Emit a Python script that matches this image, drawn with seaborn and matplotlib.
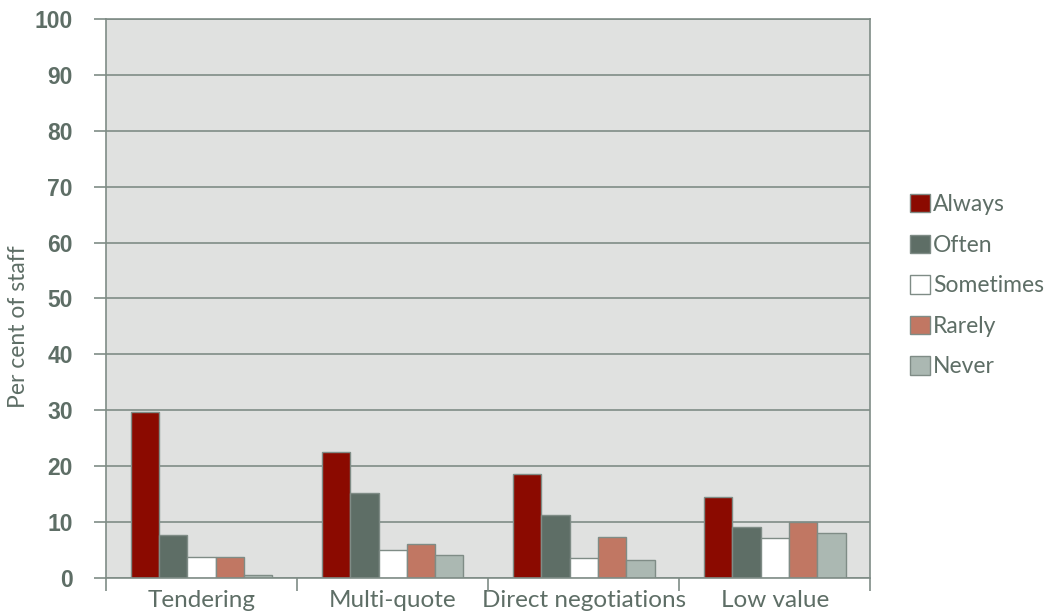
import matplotlib
matplotlib.use("Agg")
import matplotlib.pyplot as plt
import seaborn as sns
import pandas as pd
import numpy as np
from matplotlib.patches import Patch

categories = ["Tendering", "Multi-quote", "Direct negotiations", "Low value"]
series = ["Always", "Often", "Sometimes", "Rarely", "Never"]
always = [29.7, 22.6, 18.6, 14.4]
often = [7.7, 15.2, 11.3, 9.2]
sometimes = [3.8, 5.0, 3.6, 7.1]
rarely = [3.7, 6.1, 7.3, 10.0]
never = [0.5, 4.2, 3.3, 8.1]
yticks = [0, 10, 20, 30, 40, 50, 60, 70, 80, 90, 100]

colors = ["#8B0A00", "#5E6E66", "#FFFFFF", "#C17763", "#ABB8B2"]
text_col = "#5E6E66"

rows = []
for s, vals in zip(series, [always, often, sometimes, rarely, never]):
    for c, v in zip(categories, vals):
        rows.append({"cat": c, "series": s, "value": v})
df = pd.DataFrame(rows)

sns.set_style("white")
plt.rcParams['font.family'] = ['Lato', 'DejaVu Sans']

fig = plt.figure(figsize=(10.5, 6.16), dpi=100)
ax = fig.add_axes([0.101, 0.0617, 0.728, 0.9075])
ax.set_facecolor("#E0E1E0")

sns.barplot(data=df, x="cat", y="value", hue="series", order=categories,
            hue_order=series, palette=colors, width=0.74, ax=ax,
            edgecolor="#7F8C86", linewidth=1.0, saturation=1, legend=False)

ax.set_ylim(0, 100)
ax.set_xlim(-0.5, 3.5)
ax.set_yticks(yticks)
ax.set_yticklabels([str(t) for t in yticks], fontsize=16.5, fontweight="bold",
                   color=text_col, family=['Liberation Sans', 'DejaVu Sans'])
ax.yaxis.grid(True, color="#7F8C86", linewidth=1.2)
ax.set_axisbelow(True)
ax.tick_params(axis="y", direction="out", length=9, color="#7F8C86", width=1.2, pad=15, left=True)

ax.set_xticks(range(len(categories)))
ax.set_xticklabels(categories, fontsize=17.5, color=text_col)
ax.tick_params(axis="x", length=0, pad=9)
ax.set_xticks([-0.5, 0.5, 1.5, 2.5, 3.5], minor=True)
ax.tick_params(axis="x", which="minor", direction="out", length=9, color="#7F8C86", width=1.2, bottom=True)

for sp in ax.spines.values():
    sp.set_color("#7F8C86")
    sp.set_linewidth(1.2)

ax.set_xlabel("")
ax.set_ylabel("Per cent of staff", fontsize=16.5, color=text_col)
ax.yaxis.set_label_coords(-0.101, 0.45)

handles = [Patch(facecolor=c, edgecolor="#7F8C86", label=s) for s, c in zip(series, colors)]
leg = fig.legend(handles=handles, loc="center left", bbox_to_anchor=(0.867, 0.536),
                 frameon=False, fontsize=16.5, handlelength=0.85, handleheight=0.85,
                 handletextpad=0.15, labelspacing=0.85, labelcolor=text_col,
                 borderaxespad=0, borderpad=0)

fig.savefig("out.png", dpi=100)
